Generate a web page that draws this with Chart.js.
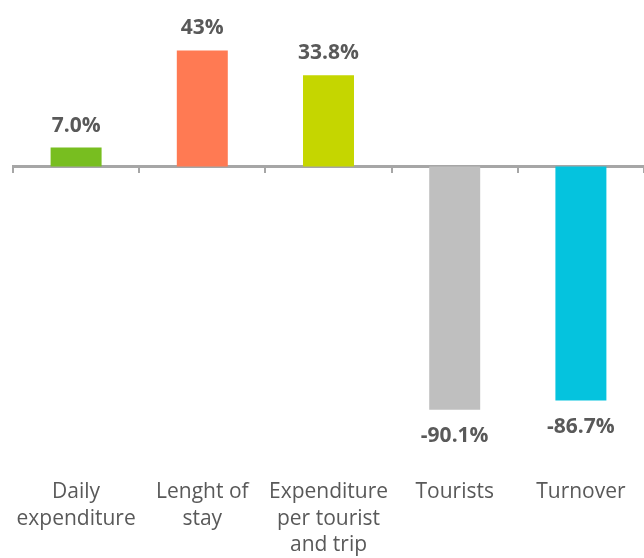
<!DOCTYPE html>
<html>
<head>
<meta charset="utf-8">
<script src="https://cdn.jsdelivr.net/npm/chart.js@4.4.1/dist/chart.umd.min.js"></script>
<style>
  html, body { margin: 0; padding: 0; background: #ffffff; }
  #wrap { width: 644px; height: 558px; }
</style>
</head>
<body>
<div id="wrap"><canvas id="c" width="644" height="558"></canvas></div>
<script>
const categories = [
  ['Daily', 'expenditure'],
  ['Lenght of', 'stay'],
  ['Expenditure', 'per tourist', 'and trip'],
  'Tourists',
  'Turnover'
];
const values = [7.0, 43, 33.8, -90.1, -86.7];
const valueLabels = ['7.0%', '43%', '33.8%', '-90.1%', '-86.7%'];
const barColors = ['#78BE20', '#FF7A53', '#C5D600', '#BFBFBF', '#05C3DE'];
const yMin = -110.4;
const yMax = 61.67;

const textColor = '#595959';
const axisColor = '#A6A6A6';
const fontFamily = '"Open Sans", "Liberation Sans", sans-serif';

const valueLabelPlugin = {
  id: 'valueLabels',
  afterDraw(chart) {
    const ctx = chart.ctx;
    const meta = chart.getDatasetMeta(0);
    ctx.save();
    ctx.font = 'bold 21px ' + fontFamily;
    ctx.fillStyle = textColor;
    ctx.textAlign = 'center';
    ctx.textBaseline = 'alphabetic';
    meta.data.forEach((bar, i) => {
      const v = values[i];
      const y = v >= 0 ? bar.y - 16 : bar.y + 32;
      ctx.fillText(valueLabels[i], bar.x, y);
    });
    ctx.restore();
  }
};

new Chart(document.getElementById('c'), {
  type: 'bar',
  data: {
    labels: categories,
    datasets: [{
      data: values,
      backgroundColor: barColors,
      borderWidth: 0,
      categoryPercentage: 1.0,
      barPercentage: 0.404
    }]
  },
  options: {
    responsive: false,
    devicePixelRatio: 1,
    animation: false,
    layout: { padding: { left: 13, right: -3, top: 0, bottom: 0 } },
    plugins: {
      legend: { display: false },
      tooltip: { enabled: false },
      title: { display: false }
    },
    scales: {
      y: {
        display: false,
        min: yMin,
        max: yMax
      },
      x: {
        position: { y: 0 },
        z: 1,
        afterFit: (scale) => { scale.height = 0; },
        ticks: { display: false },
        grid: {
          drawOnChartArea: false,
          drawTicks: true,
          tickLength: 5,
          color: axisColor,
          lineWidth: 2
        },
        border: { display: true, color: axisColor, width: 3 }
      },
      x2: {
        type: 'category',
        position: 'bottom',
        offset: true,
        labels: categories,
        afterFit: (scale) => { scale.height = 93.4; },
        grid: { display: false, drawTicks: false },
        border: { display: false },
        ticks: {
          maxRotation: 0,
          autoSkip: false,
          padding: 14,
          color: textColor,
          font: { family: fontFamily, size: 21, lineHeight: 1.27 }
        }
      }
    }
  },
  plugins: [valueLabelPlugin]
});
</script>
</body>
</html>
